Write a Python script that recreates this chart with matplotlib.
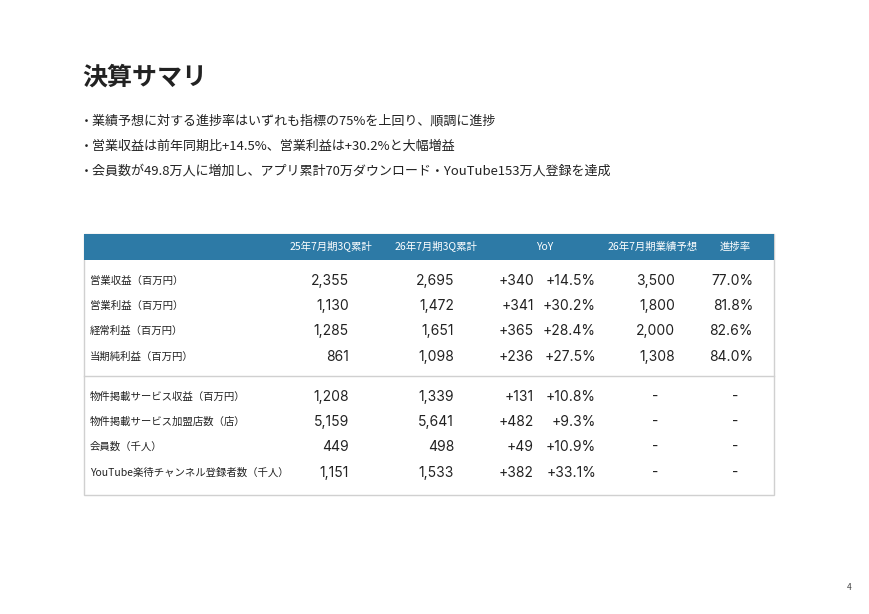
import matplotlib.pyplot as plt
import matplotlib.patches as patches

plt.rcParams['font.family'] = ['Noto Sans CJK JP', 'DejaVu Sans']

W, H = 870, 614

title = "決算サマリ"
bullets = [
    "・業績予想に対する進捗率はいずれも指標の75%を上回り、順調に進捗",
    "・営業収益は前年同期比+14.5%、営業利益は+30.2%と大幅増益",
    "・会員数が49.8万人に増加し、アプリ累計70万ダウンロード・YouTube153万人登録を達成",
]
headers = ["25年7月期3Q累計", "26年7月期3Q累計", "YoY", "26年7月期業績予想", "進捗率"]
row_labels = ["営業収益（百万円）", "営業利益（百万円）", "経常利益（百万円）", "当期純利益（百万円）",
              "物件掲載サービス収益（百万円）", "物件掲載サービス加盟店数（店）", "会員数（千人）",
              "YouTube楽待チャンネル登録者数（千人）"]
prev = ["2,355", "1,130", "1,285", "861", "1,208", "5,159", "449", "1,151"]
curr = ["2,695", "1,472", "1,651", "1,098", "1,339", "5,641", "498", "1,533"]
yoy_abs = ["+340", "+341", "+365", "+236", "+131", "+482", "+49", "+382"]
yoy_pct = ["+14.5%", "+30.2%", "+28.4%", "+27.5%", "+10.8%", "+9.3%", "+10.9%", "+33.1%"]
forecast = ["3,500", "1,800", "2,000", "1,308", "-", "-", "-", "-"]
progress = ["77.0%", "81.8%", "82.6%", "84.0%", "-", "-", "-", "-"]

fig = plt.figure(figsize=(8.7, 6.14), dpi=100)
ax = fig.add_axes([0, 0, 1, 1])
ax.set_xlim(0, W)
ax.set_ylim(H, 0)
ax.axis('off')

ax.text(82, 78, title, fontsize=18, fontweight='bold', va='center', color='#222222')
for i, b in enumerate(bullets):
    ax.text(80, 121 + i * 25, b, fontsize=9.4, va='center', color='#222222')

# table box
ax.add_patch(patches.Rectangle((84, 234), 690, 261, facecolor='white', edgecolor='#d0d0d0', lw=1))
ax.add_patch(patches.Rectangle((84, 234), 690, 26, facecolor='#2d7aa6', edgecolor='none'))
ax.plot([84, 774], [376, 376], color='#d0d0d0', lw=1)

hx = [331, 436, 545, 653, 735]
for x, h in zip(hx, headers):
    ax.text(x, 247, h, fontsize=7.5, color='white', ha='center', va='center')

num_font = ['Inter', 'DejaVu Sans']
row_y = [281, 306, 331, 357, 397, 422, 447, 473]
cols = [(349, prev), (454, curr), (534, yoy_abs), (596, yoy_pct), (675, forecast), (753, progress)]
for r, y in enumerate(row_y):
    ax.text(90, y, row_labels[r], fontsize=7.5, va='center', color='#222222')
    for x, vals in cols:
        v = vals[r]
        if v == "-":
            xc = 655 if x == 675 else 735
            ax.text(xc, y, v, fontsize=10, ha='center', va='center', color='#222222', family=num_font)
        else:
            ax.text(x, y, v, fontsize=10, ha='right', va='center', color='#222222', family=num_font)

ax.text(849, 588, "4", fontsize=6, ha='center', va='center', color='#444444')

fig.savefig('out.png', dpi=100)
